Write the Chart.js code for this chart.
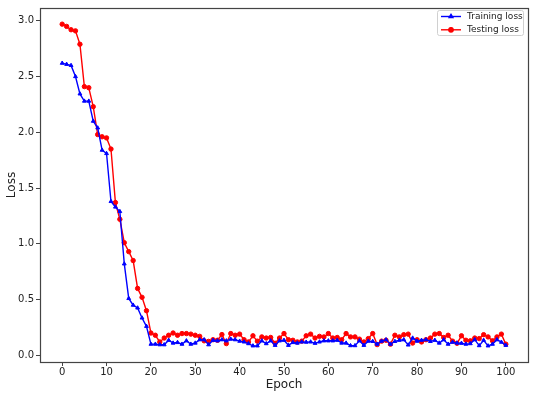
<!DOCTYPE html>
<html>
<head>
<meta charset="utf-8">
<script src="https://cdn.jsdelivr.net/npm/chart.js@4"></script>
<style>
html, body { margin: 0; padding: 0; background: #fff; }
#wrap { width: 537px; height: 394px; }
</style>
</head>
<body>
<div id="wrap"><canvas id="lossChart" width="537" height="394"></canvas></div>
<script>
// Loss values per epoch
const trainingLoss = [
    2.62, 2.61, 2.60, 2.50, 2.345, 2.28, 2.28, 2.10, 2.04, 1.84,
    1.81, 1.38, 1.33, 1.29, 0.82, 0.51, 0.45, 0.425, 0.335, 0.26,
    0.10, 0.10, 0.095, 0.095, 0.135, 0.11, 0.115, 0.10, 0.13, 0.10,
    0.11, 0.14, 0.14, 0.095, 0.135, 0.13, 0.14, 0.13, 0.145, 0.14,
    0.127, 0.12, 0.105, 0.085, 0.085, 0.13, 0.105, 0.13, 0.09, 0.13,
    0.135, 0.09, 0.115, 0.11, 0.12, 0.118, 0.12, 0.108, 0.12, 0.13,
    0.13, 0.13, 0.135, 0.11, 0.11, 0.087, 0.087, 0.13, 0.09, 0.127,
    0.125, 0.10, 0.127, 0.14, 0.10, 0.125, 0.135, 0.14, 0.093, 0.155,
    0.127, 0.135, 0.14, 0.125, 0.135, 0.11, 0.14, 0.10, 0.118, 0.11,
    0.108, 0.10, 0.105, 0.14, 0.087, 0.135, 0.085, 0.10, 0.14, 0.118,
    0.09
];
const testingLoss = [
    2.97, 2.95, 2.92, 2.91, 2.79, 2.41, 2.40, 2.23, 1.98, 1.96,
    1.95, 1.85, 1.37, 1.22, 1.01, 0.93, 0.85, 0.60, 0.52, 0.40,
    0.20, 0.18, 0.12, 0.155, 0.18, 0.20, 0.18, 0.195, 0.195, 0.19,
    0.18, 0.17, 0.13, 0.125, 0.14, 0.135, 0.186, 0.105, 0.195, 0.18,
    0.19, 0.14, 0.12, 0.175, 0.127, 0.165, 0.155, 0.16, 0.108, 0.155,
    0.195, 0.14, 0.135, 0.12, 0.127, 0.175, 0.19, 0.155, 0.17, 0.165,
    0.195, 0.155, 0.16, 0.14, 0.195, 0.165, 0.165, 0.145, 0.12, 0.15,
    0.195, 0.096, 0.127, 0.135, 0.10, 0.18, 0.165, 0.185, 0.19, 0.11,
    0.14, 0.12, 0.14, 0.155, 0.19, 0.195, 0.16, 0.18, 0.127, 0.108,
    0.175, 0.135, 0.13, 0.155, 0.15, 0.185, 0.165, 0.13, 0.165, 0.19,
    0.10
];
const epochs = trainingLoss.map((_, i) => i);
const xTicks = [0, 10, 20, 30, 40, 50, 60, 70, 80, 90, 100];
const yTicks = [0.0, 0.5, 1.0, 1.5, 2.0, 2.5, 3.0];

const FONT = "'DejaVu Sans', sans-serif";
const AXIS_COLOR = '#444';
const TEXT_COLOR = '#222';

// matplotlib style frame round the plot area
const framePlugin = {
    id: 'frame',
    afterDraw(chart) {
        const { ctx, chartArea: a } = chart;
        ctx.save();
        ctx.strokeStyle = AXIS_COLOR;
        ctx.lineWidth = 1.2;
        ctx.strokeRect(Math.round(a.left) + 0.5, Math.round(a.top) + 0.5,
            Math.round(a.right - a.left), Math.round(a.bottom - a.top));
        ctx.restore();
    }
};

// legend box in the upper right corner, inside the axes
const insideLegend = {
    id: 'insideLegend',
    afterDraw(chart) {
        const { ctx, chartArea: a } = chart;
        const sets = chart.data.datasets;
        const boxW = 86, rowH = 13.3;
        const boxH = 25;
        const x0 = a.right - boxW - 5, y0 = a.top + 2;
        ctx.save();
        ctx.fillStyle = 'rgba(255,255,255,0.8)';
        ctx.strokeStyle = '#d0d0d0';
        ctx.lineWidth = 1;
        ctx.beginPath();
        ctx.roundRect(x0 + 0.5, y0 + 0.5, boxW, boxH, 2);
        ctx.fill();
        ctx.stroke();
        ctx.font = '9px ' + FONT;
        ctx.textBaseline = 'middle';
        sets.forEach((ds, i) => {
            const cy = y0 + 6.5 + i * rowH;
            ctx.strokeStyle = ds.borderColor;
            ctx.lineWidth = ds.borderWidth;
            ctx.beginPath();
            ctx.moveTo(x0 + 4, cy);
            ctx.lineTo(x0 + 24, cy);
            ctx.stroke();
            Chart.helpers.drawPoint(ctx, {
                pointStyle: ds.pointStyle,
                radius: ds.pointRadius,
                borderWidth: 1
            }, x0 + 14, cy);
            ctx.fillStyle = ds.pointBackgroundColor;
            ctx.fill();
            ctx.fillStyle = TEXT_COLOR;
            ctx.fillText(ds.label, x0 + 30, cy);
        });
        ctx.restore();
    }
};

const toPoints = (vals) => vals.map((v, i) => ({ x: epochs[i], y: v }));

new Chart(document.getElementById('lossChart'), {
    type: 'line',
    data: {
        datasets: [{
            label: 'Training loss',
            data: toPoints(trainingLoss),
            borderColor: '#0000ff',
            backgroundColor: '#0000ff',
            pointBackgroundColor: '#0000ff',
            pointBorderColor: '#0000ff',
            pointStyle: 'triangle',
            pointRadius: 2.2,
            pointBorderWidth: 1,
            borderWidth: 1.4,
            tension: 0
        }, {
            label: 'Testing loss',
            data: toPoints(testingLoss),
            borderColor: '#ff0000',
            backgroundColor: '#ff0000',
            pointBackgroundColor: '#ff0000',
            pointBorderColor: '#ff0000',
            pointStyle: 'circle',
            pointRadius: 2.2,
            pointBorderWidth: 1,
            borderWidth: 1.4,
            tension: 0
        }]
    },
    options: {
        responsive: false,
        animation: false,
        devicePixelRatio: 1,
        layout: { padding: { top: 7, right: 9, left: 0, bottom: 0 } },
        plugins: {
            legend: { display: false },
            tooltip: { enabled: false }
        },
        scales: {
            x: {
                type: 'linear',
                min: -5,
                max: 105,
                afterBuildTicks: (scale) => { scale.ticks = xTicks.map(v => ({ value: v })); },
                afterFit: (scale) => { scale.height = 32; },
                grid: { drawOnChartArea: false, drawTicks: true, tickLength: 4, color: AXIS_COLOR },
                border: { display: true, color: AXIS_COLOR },
                ticks: {
                    padding: 0,
                    maxRotation: 0,
                    color: TEXT_COLOR,
                    font: { family: FONT, size: 10 }
                },
                title: {
                    display: true,
                    text: 'Epoch',
                    color: TEXT_COLOR,
                    padding: { top: 0, bottom: 2 },
                    font: { family: FONT, size: 12 }
                }
            },
            y: {
                type: 'linear',
                min: -0.06,
                max: 3.115,
                afterBuildTicks: (scale) => { scale.ticks = yTicks.map(v => ({ value: v })); },
                afterFit: (scale) => { scale.width = 40; },
                grid: { drawOnChartArea: false, drawTicks: true, tickLength: 4, color: AXIS_COLOR },
                border: { display: true, color: AXIS_COLOR },
                ticks: {
                    padding: 2,
                    color: TEXT_COLOR,
                    font: { family: FONT, size: 10 },
                    callback: (v) => Number(v).toFixed(1)
                },
                title: {
                    display: true,
                    text: 'Loss',
                    color: TEXT_COLOR,
                    padding: { top: 5, bottom: 0 },
                    font: { family: FONT, size: 12 }
                }
            }
        }
    },
    plugins: [framePlugin, insideLegend]
});
</script>
</body>
</html>
